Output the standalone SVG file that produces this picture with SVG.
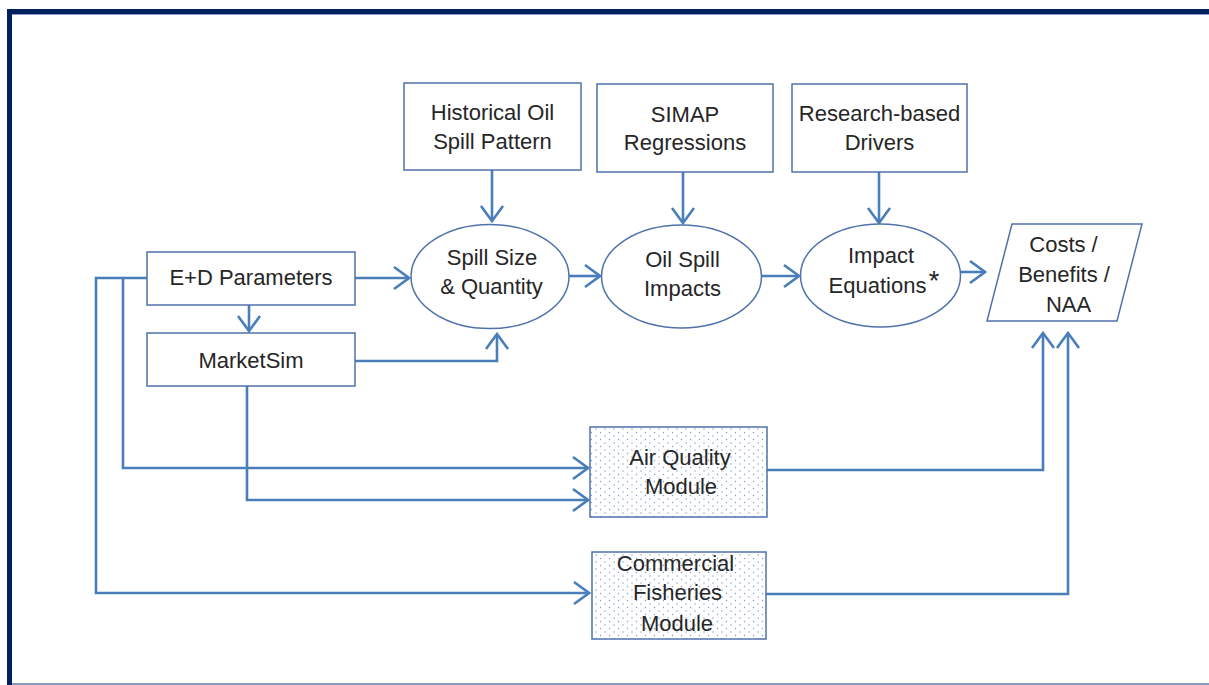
<svg xmlns="http://www.w3.org/2000/svg" width="1209" height="685" viewBox="0 0 1209 685">
<defs>
<style>
.box{fill:#fff;stroke:#4f72ab;stroke-width:1.5}
.dot{fill:url(#dots);stroke:#4f72ab;stroke-width:1.5}
.t{font-family:"Liberation Sans",Arial,sans-serif;font-size:22px;fill:#262626;text-anchor:middle}
.c{fill:none;stroke:#4a7ebb;stroke-width:2.6;stroke-linejoin:miter}
</style>
<pattern id="dots" width="9" height="7" patternUnits="userSpaceOnUse">
<rect width="9" height="7" fill="#fff"/>
<circle cx="2" cy="2" r="0.7" fill="#7a9bcc"/>
<circle cx="6.5" cy="5.5" r="0.7" fill="#7a9bcc"/>
</pattern>
<marker id="ah" markerUnits="userSpaceOnUse" viewBox="-17 -13 19 26" markerWidth="19" markerHeight="26" refX="0" refY="0" orient="auto">
<path d="M-15,-11 L0,0 L-15,11" fill="none" stroke="#4a7ebb" stroke-width="2.6"/>
</marker>
</defs>
<rect width="1209" height="685" fill="#fff"/>
<g id="frame">
<rect x="7" y="9" width="1202" height="5" fill="#002060"/>
<rect x="7" y="9" width="5" height="676" fill="#002060"/>
<rect x="12" y="14" width="1197" height="1" fill="#8a9cc2"/>
<rect x="12" y="683" width="1197" height="2" fill="#8a9cc2"/>
</g>
<g id="connectors">
<path class="c" d="M492,170 V221" marker-end="url(#ah)"/>
<path class="c" d="M683,172 V223" marker-end="url(#ah)"/>
<path class="c" d="M879,172 V223" marker-end="url(#ah)"/>
<path class="c" d="M355,278 H409" marker-end="url(#ah)"/>
<path class="c" d="M569,276 H600" marker-end="url(#ah)"/>
<path class="c" d="M761,276 H799" marker-end="url(#ah)"/>
<path class="c" d="M960,272 H985" marker-end="url(#ah)"/>
<path class="c" d="M249,305 V331" marker-end="url(#ah)"/>
<path class="c" d="M355,361 H497 V334" marker-end="url(#ah)"/>
<path class="c" d="M147,278 H96 V593 H589" marker-end="url(#ah)"/>
<path class="c" d="M123,278 V468 H588" marker-end="url(#ah)"/>
<path class="c" d="M247,386 V500 H588" marker-end="url(#ah)"/>
<path class="c" d="M767,470 H1043 V333" marker-end="url(#ah)"/>
<path class="c" d="M766,594 H1068 V333" marker-end="url(#ah)"/>
</g>
<g id="historical">
<rect class="box" x="404" y="83" width="177" height="87"/>
<text class="t" x="492.5" y="120">Historical Oil</text>
<text class="t" x="492.5" y="149">Spill Pattern</text>
</g>
<g id="simap">
<rect class="box" x="597" y="84" width="176" height="88"/>
<text class="t" x="685" y="122">SIMAP</text>
<text class="t" x="685" y="150">Regressions</text>
</g>
<g id="research">
<rect class="box" x="792" y="84" width="175" height="88"/>
<text class="t" x="879.5" y="121">Research-based</text>
<text class="t" x="879.5" y="150">Drivers</text>
</g>
<g id="edparams">
<rect class="box" x="147" y="252" width="208" height="53"/>
<text class="t" x="251" y="285">E+D Parameters</text>
</g>
<g id="marketsim">
<rect class="box" x="147" y="333" width="208" height="53"/>
<text class="t" x="251" y="368">MarketSim</text>
</g>
<g id="spillsize">
<ellipse class="box" cx="490" cy="276.5" rx="79" ry="52"/>
<text class="t" x="492" y="265">Spill Size</text>
<text class="t" x="491.5" y="294">&amp; Quantity</text>
</g>
<g id="oilspill">
<ellipse class="box" cx="681.5" cy="276.5" rx="80" ry="51.5"/>
<text class="t" x="682.5" y="267">Oil Spill</text>
<text class="t" x="682.5" y="296">Impacts</text>
</g>
<g id="impact">
<ellipse class="box" cx="880.5" cy="275.5" rx="80" ry="51.5"/>
<text class="t" x="881" y="263">Impact</text>
<text class="t" x="877.5" y="293">Equations</text>
<text class="t" x="934" y="290" style="font-size:27px">*</text>
</g>
<g id="costs">
<polygon class="box" points="1012,224 1142,224 1117,321 987,321"/>
<text class="t" x="1063.5" y="252">Costs /</text>
<text class="t" x="1064" y="282">Benefits /</text>
<text class="t" x="1068.5" y="312">NAA</text>
</g>
<g id="airquality">
<rect class="dot" x="590" y="427" width="177" height="90"/>
<text class="t" x="680" y="465">Air Quality</text>
<text class="t" x="681" y="494">Module</text>
</g>
<g id="fisheries">
<rect class="dot" x="592" y="552" width="174" height="87"/>
<text class="t" x="675.5" y="571">Commercial</text>
<text class="t" x="677.5" y="600">Fisheries</text>
<text class="t" x="677" y="631">Module</text>
</g>
</svg>
